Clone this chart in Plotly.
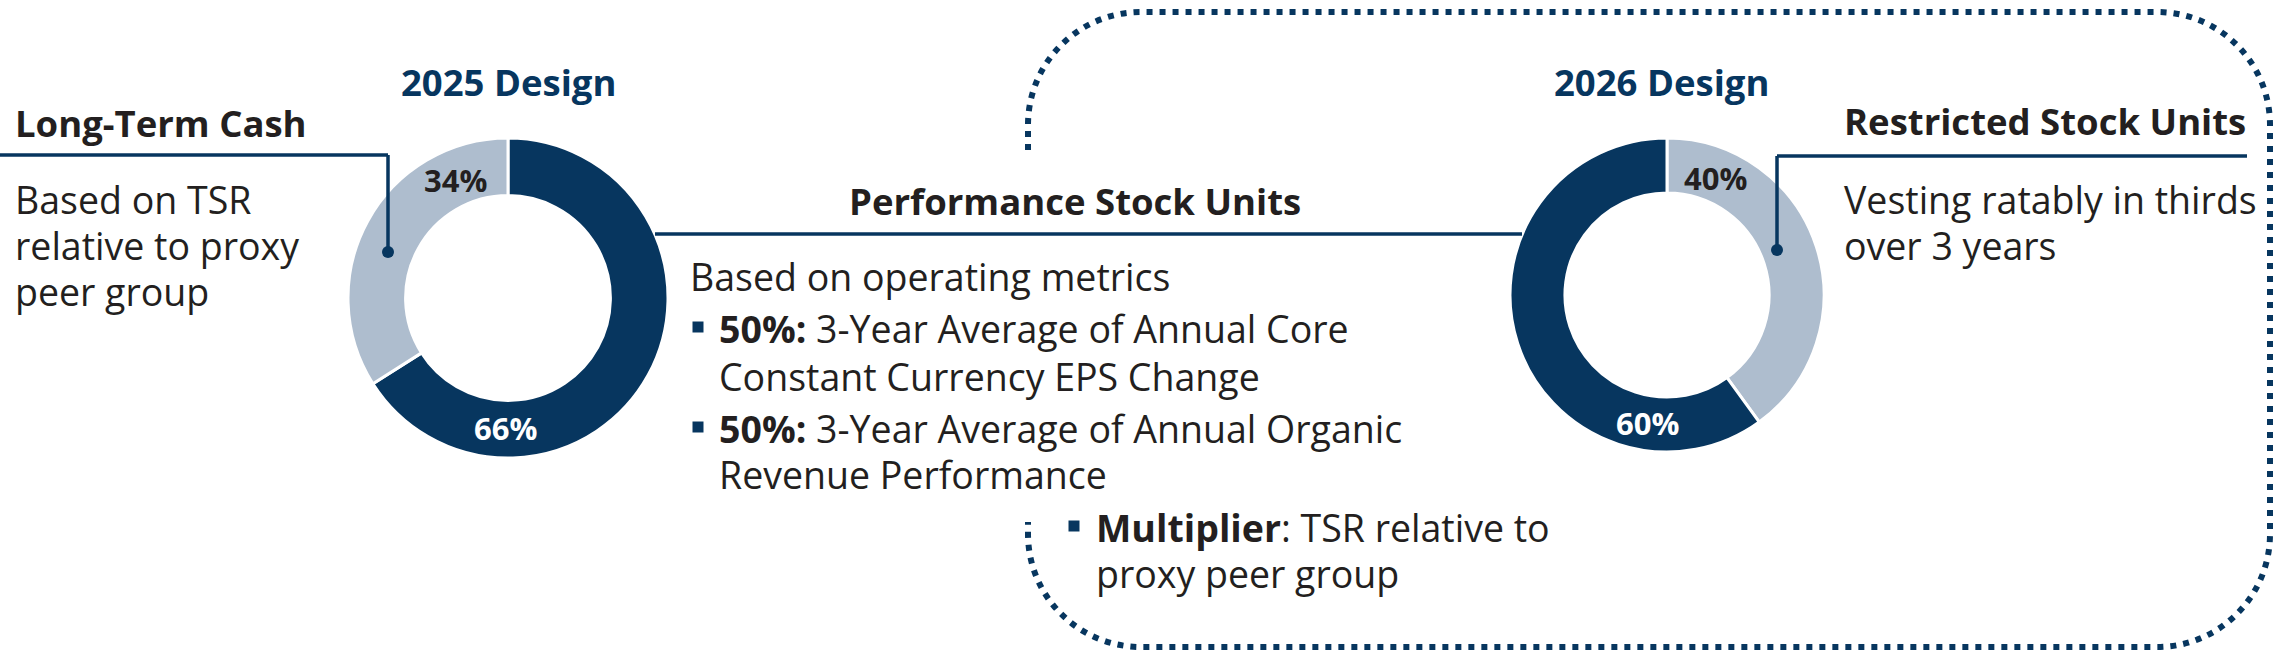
import plotly.graph_objects as go

W, H = 2280, 657

# ---------------- data ----------------
design_titles = ["2025 Design", "2026 Design"]
labels_2025 = ["Performance Stock Units", "Long-Term Cash"]
values_2025 = [66, 34]
labels_2026 = ["Restricted Stock Units", "Performance Stock Units"]
values_2026 = [40, 60]

ltc_title = "Long-Term Cash"
ltc_lines = ["Based on TSR", "relative to proxy", "peer group"]
psu_title = "Performance Stock Units"
psu_intro = "Based on operating metrics"
psu_bullet_lines = [
    "<b>50%:</b> 3-Year Average of Annual Core",
    "Constant Currency EPS Change",
    "<b>50%:</b> 3-Year Average of Annual Organic",
    "Revenue Performance",
]
psu_multiplier_lines = ["<b>Multiplier</b>: TSR relative to", "proxy peer group"]
rsu_title = "Restricted Stock Units"
rsu_lines = ["Vesting ratably in thirds", "over 3 years"]

# ---------------- style ----------------
NAVY = "#07365f"
LIGHT = "#aebdce"
TEXT = "#231f20"
FONT = "Open Sans"
BODY = 37.5
HEAD = 36.5
PCT = 31


def dom(cx, cy, r):
    return dict(x=[(cx - r) / W, (cx + r) / W], y=[1 - (cy + r) / H, 1 - (cy - r) / H])


fig = go.Figure()
fig.add_trace(go.Scatter(x=[], y=[], showlegend=False, hoverinfo="skip"))

d1 = dict(cx=508, cy=298, r=160)
d2 = dict(cx=1667, cy=295, r=157)

fig.add_trace(go.Pie(
    labels=labels_2025, values=values_2025, hole=0.64, sort=False,
    direction="clockwise", rotation=0, textinfo="none", hoverinfo="label+percent",
    marker=dict(colors=[NAVY, LIGHT], line=dict(color="white", width=3)),
    domain=dom(**d1), showlegend=False,
))
fig.add_trace(go.Pie(
    labels=labels_2026, values=values_2026, hole=0.65, sort=False,
    direction="clockwise", rotation=0, textinfo="none", hoverinfo="label+percent",
    marker=dict(colors=[LIGHT, NAVY], line=dict(color="white", width=3)),
    domain=dom(**d2), showlegend=False,
))

ann = []


def txt(x, y, text, size=BODY, color=TEXT, xanchor="left", bold=False):
    ann.append(dict(x=x, y=y, xref="x", yref="y", text=(f"<b>{text}</b>" if bold else text),
                    showarrow=False, xanchor=xanchor, yanchor="middle", align="left",
                    font=dict(family=FONT, size=size, color=color)))


# design titles
txt(d1["cx"], 82, design_titles[0], HEAD, NAVY, "center", True)
txt(1661, 82, design_titles[1], HEAD, NAVY, "center", True)

# percentage labels
txt(455, 180, f"{values_2025[1]}%", PCT, TEXT, "center", True)
txt(505, 428, f"{values_2025[0]}%", PCT, "white", "center", True)
txt(1715, 178, f"{values_2026[0]}%", PCT, TEXT, "center", True)
txt(1647, 423, f"{values_2026[1]}%", PCT, "white", "center", True)

# left block
txt(13, 123, ltc_title, HEAD, TEXT, "left", True)
for i, s in enumerate(ltc_lines):
    txt(13, 199 + 46 * i, s)

# middle block
txt(1075, 201, psu_title, HEAD, TEXT, "center", True)
txt(688, 276, psu_intro)
for i, s in enumerate(psu_bullet_lines):
    txt(717, [328, 376, 428, 474][i], s)
for i, s in enumerate(psu_multiplier_lines):
    txt(1094, 527 + 46 * i, s)

# right block
txt(1842, 121, rsu_title, HEAD, TEXT, "left", True)
for i, s in enumerate(rsu_lines):
    txt(1842, 199 + 46 * i, s)

shapes = []
LW = 3.5


def line(x0, y0, x1, y1):
    shapes.append(dict(type="line", xref="x", yref="y", x0=x0, y0=y0, x1=x1, y1=y1,
                       line=dict(color=NAVY, width=LW)))


def dot(x, y, r=6):
    shapes.append(dict(type="circle", xref="x", yref="y", x0=x - r, y0=y - r, x1=x + r, y1=y + r,
                       fillcolor=NAVY, line=dict(width=0)))


def square(x, y, s=5.5):
    shapes.append(dict(type="rect", xref="x", yref="y", x0=x - s, y0=y - s, x1=x + s, y1=y + s,
                       fillcolor=NAVY, line=dict(width=0)))


line(0, 155, 388, 155)
line(388, 155, 388, 252)
dot(388, 252)
line(655, 234, 1522, 234)
line(1777, 156, 2247, 156)
line(1777, 156, 1777, 250)
dot(1777, 250)
square(698, 327)
square(698, 427)
square(1074, 526)

# dotted rounded box
x0, x1, y0, y1, r = 1028, 2270, 12, 647, 113
k = 0.5523 * r
path = (
    f"M {x0},150 L {x0},{y0 + r} "
    f"C {x0},{y0 + r - k} {x0 + r - k},{y0} {x0 + r},{y0} "
    f"L {x1 - r},{y0} "
    f"C {x1 - r + k},{y0} {x1},{y0 + r - k} {x1},{y0 + r} "
    f"L {x1},{y1 - r} "
    f"C {x1},{y1 - r + k} {x1 - r + k},{y1} {x1 - r},{y1} "
    f"L {x0 + r},{y1} "
    f"C {x0 + r - k},{y1} {x0},{y1 - r + k} {x0},{y1 - r} "
    f"L {x0},522"
)
shapes.append(dict(type="path", xref="x", yref="y", path=path,
                   line=dict(color=NAVY, width=6, dash="6px,7px")))

fig.update_layout(
    width=W, height=H, margin=dict(l=0, r=0, t=0, b=0),
    paper_bgcolor="white", plot_bgcolor="white",
    xaxis=dict(range=[0, W], visible=False, fixedrange=True),
    yaxis=dict(range=[H, 0], visible=False, fixedrange=True),
    annotations=ann, shapes=shapes, showlegend=False,
)

fig.write_html(
    "out.html",
    config={"displayModeBar": False},
    post_script="document.body.style.margin='0';document.body.style.overflow='hidden';",
)
